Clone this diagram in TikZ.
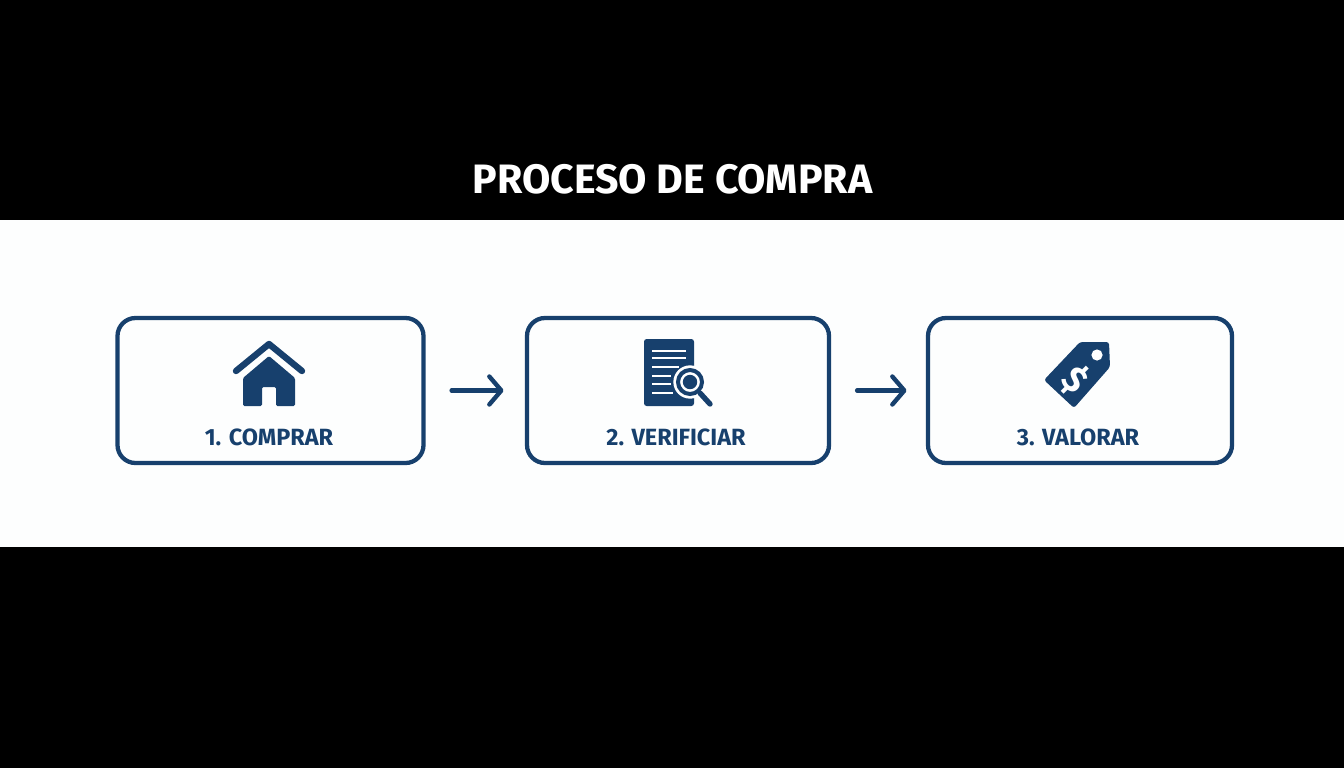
\documentclass[tikz,border=0pt]{standalone}
\usepackage{fontspec}
\setmainfont{Fira Sans}
\usepackage{xcolor}
\usetikzlibrary{arrows, arrows.meta}
\definecolor{navy}{HTML}{17406D}
\definecolor{band}{HTML}{FDFEFE}
\tikzset{
	stepbox/.style={draw=navy, line width=3.2pt, rounded corners=13.5pt, fill=band, inner sep=0pt},
	steplabel/.style={text=navy, font=\fontsize{17.6}{20}\selectfont\bfseries, inner sep=0pt},
	flow/.style={draw=navy, line width=3.3pt, line cap=round, -{Straight Barb[length=9pt, width=21pt, line cap=round, round]}, shorten <=19.5pt},
}
\begin{document}
\begin{tikzpicture}[x=0.75pt, y=-0.75pt]
			\useasboundingbox (0,0) rectangle (1344,768);
			\fill[black] (0,0) rectangle (1344,768);
			\fill[band] (0,220) rectangle (1344,547);
			\node[text=white, font=\fontsize{30.8}{34}\selectfont\bfseries, inner sep=0pt] (title) at (672.5,179.5){PROCESO DE COMPRA};
			\node[stepbox, minimum width=229.5pt, minimum height=108.75pt] (box1) at (270.5,390.5){};
			\node[stepbox, minimum width=226.5pt, minimum height=108.75pt] (box2) at (678,390.5){};
			\node[stepbox, minimum width=228pt, minimum height=108.75pt] (box3) at (1080,390.5){};
			\node[steplabel] (label1) at (269,437.5){1. COMPRAR};
			\node[steplabel] (label2) at (676,437.5){2. VERIFICIAR};
			\node[steplabel] (label3) at (1078,437.5){3. VALORAR};
			\draw[flow, shorten >=16pt] (box1) -- (box2);
			\draw[flow, shorten >=14.5pt] (box2) -- (box3);
			% house
			\draw[navy, line width=4.8pt, line cap=round, line join=round] (236,371) -- (269,344) -- (302,371);
			\fill[navy, rounded corners=1pt] (243,378) -- (269,356) -- (295,378) -- (295,406) -- (276,406) -- (276,387) -- (262,387) -- (262,406) -- (243,406) -- cycle;
			% document
			\fill[navy, rounded corners=2pt] (644,339) rectangle (694,406);
			\foreach \y in {351,358} \draw[white, line width=2.1pt] (652,\y) -- (686,\y);
			\foreach \y/\w in {367/679,376/671,384/671,393/673} \draw[white, line width=2.1pt] (652,\y) -- (\w,\y);
			\fill[white] (690,382) circle[radius=12.5pt];
			\draw[white, line width=6pt] (699,392) -- (708,402);
			\draw[navy, line width=4pt, line cap=round] (700,393) -- (710,404);
			\draw[navy, line width=3pt, fill=white] (690,382) circle[radius=9pt];
			\fill[navy] (690,382) circle[radius=5.4pt];
			% tag
			\fill[navy, rounded corners=2pt] (1080,342) -- (1109,342) -- (1110,367) -- (1074,408) -- (1044,380) -- cycle;
			\fill[white] (1097,355) circle[radius=4.2pt];
			\node[text=white, font=\fontsize{27}{28}\selectfont\bfseries, rotate=-45, inner sep=0pt] (dollar) at (1075,380){\$};
		\end{tikzpicture}
\end{document}
